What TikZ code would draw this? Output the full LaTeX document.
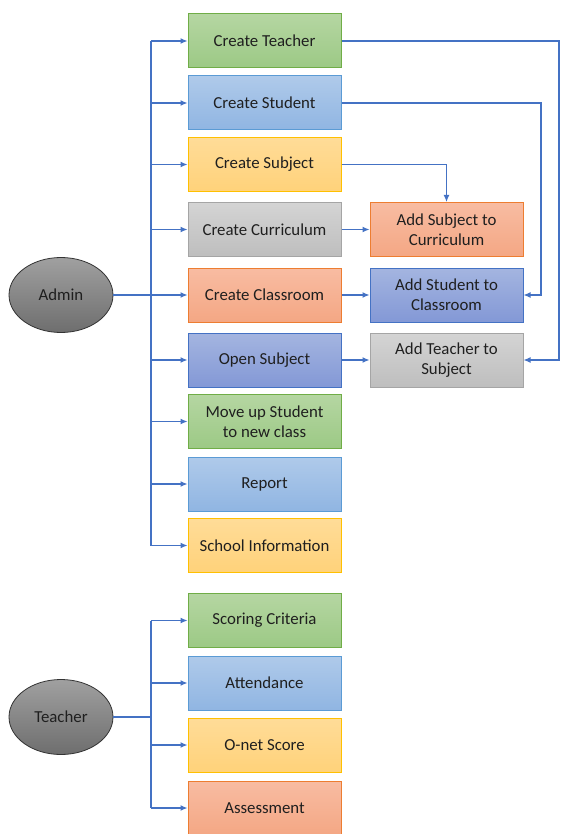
\documentclass[tikz,border=0pt]{standalone}
\usepackage{fontspec}
\setmainfont{Carlito}
\usetikzlibrary{arrows.meta,shapes.geometric}
\definecolor{gT}{HTML}{B5D6A2}\definecolor{gB}{HTML}{9CC985}\definecolor{gD}{HTML}{70AD47}
\definecolor{bT}{HTML}{AFCAEA}\definecolor{bB}{HTML}{90B5E2}\definecolor{bD}{HTML}{5B9BD5}
\definecolor{yT}{HTML}{FFDC98}\definecolor{yB}{HTML}{FFD27A}\definecolor{yD}{HTML}{FFC000}
\definecolor{aT}{HTML}{D4D4D4}\definecolor{aB}{HTML}{BEBEBE}\definecolor{aD}{HTML}{A5A5A5}
\definecolor{oT}{HTML}{F8BCA2}\definecolor{oB}{HTML}{F4A784}\definecolor{oD}{HTML}{ED7D31}
\definecolor{dT}{HTML}{A4B5E0}\definecolor{dB}{HTML}{8398D6}\definecolor{dD}{HTML}{4472C4}
\definecolor{eT}{HTML}{A0A0A0}\definecolor{eB}{HTML}{6E6E6E}
\definecolor{ln}{HTML}{4472C4}
\tikzset{
  box/.style={draw, line width=1pt, minimum width=153pt, minimum height=54pt, align=center,
    inner sep=0pt, font=\fontsize{16.8}{20}\selectfont, text=black!88},
  grn/.style={box, top color=gT, bottom color=gB, draw=gD},
  blu/.style={box, top color=bT, bottom color=bB, draw=bD},
  ylw/.style={box, top color=yT, bottom color=yB, draw=yD},
  gry/.style={box, top color=aT, bottom color=aB, draw=aD},
  org/.style={box, top color=oT, bottom color=oB, draw=oD},
  dbl/.style={box, top color=dT, bottom color=dB, draw=dD},
  actor/.style={ellipse, draw=black!80, line width=0.8pt, top color=eT, bottom color=eB,
    minimum width=104pt, minimum height=75pt, inner sep=0pt, font=\fontsize{16.8}{20}\selectfont, text=black!88},
  conn/.style={draw=ln, line width=1.2pt},
  trunk/.style={draw=ln, line width=1.8pt},
  arr/.style={conn, -{Latex[length=7pt,width=6pt]}}
}
\begin{document}
\begin{tikzpicture}[x=1pt,y=-1pt]
\useasboundingbox (0,0) rectangle (561,834);
% Admin column
\node[grn] (ct) at (264.5,41) {Create Teacher};
\node[blu] (cs) at (264.5,103) {Create Student};
\node[ylw] (csub) at (264.5,164.5) {Create Subject};
\node[gry] (ccur) at (264.5,229.5) {Create Curriculum};
\node[org] (ccl) at (264.5,295) {Create Classroom};
\node[dbl] (os) at (264.5,360) {Open Subject};
\node[grn] (mv) at (264.5,421.5) {Move up Student\\to new class};
\node[blu] (rep) at (264.5,484) {Report};
\node[ylw] (si) at (264.5,545.5) {School Information};
% right column
\node[org] (as) at (446.5,229.5) {Add Subject to\\Curriculum};
\node[dbl] (ast) at (446.5,295) {Add Student to\\Classroom};
\node[gry] (at) at (446.5,360) {Add Teacher to\\Subject};
% Teacher column
\node[grn] (sc) at (264.5,620.5) {Scoring Criteria};
\node[blu] (att) at (264.5,683) {Attendance};
\node[ylw] (on) at (264.5,745) {O-net Score};
\node[org] (ass) at (264.5,808) {Assessment};
% actors
\node[actor] (admin) at (61,295) {Admin};
\node[actor] (teacher) at (61,717) {Teacher};
% admin bus
\coordinate (ab) at (151,295);
\coordinate (tb) at (151,717);
\draw[trunk] (admin.east) -- (ab);
\draw[conn] (ab |- ct.west) -- (ab |- si.west);
\foreach \n in {ct,cs,csub,ccur,ccl,os,mv,rep,si}
  \draw[arr] (ab |- \n.west) -- (\n.west);
\draw[trunk] (teacher.east) -- (tb);
\draw[conn] (tb |- sc.west) -- (tb |- ass.west);
\foreach \n in {sc,att,on,ass}
  \draw[arr] (tb |- \n.west) -- (\n.west);
% cross links
\draw[arr] (ccur.east) -- (as.west);
\draw[arr] (ccl.east) -- (ast.west);
\draw[arr] (os.east) -- (at.west);
\coordinate (r1) at (559,41);
\coordinate (r2) at (541,103);
\draw[arr] (ct.east) -- (r1) |- (at.east);
\draw[arr] (cs.east) -- (r2) |- (ast.east);
\draw[arr] (csub.east) -| (as.north);
\end{tikzpicture}
\end{document}
